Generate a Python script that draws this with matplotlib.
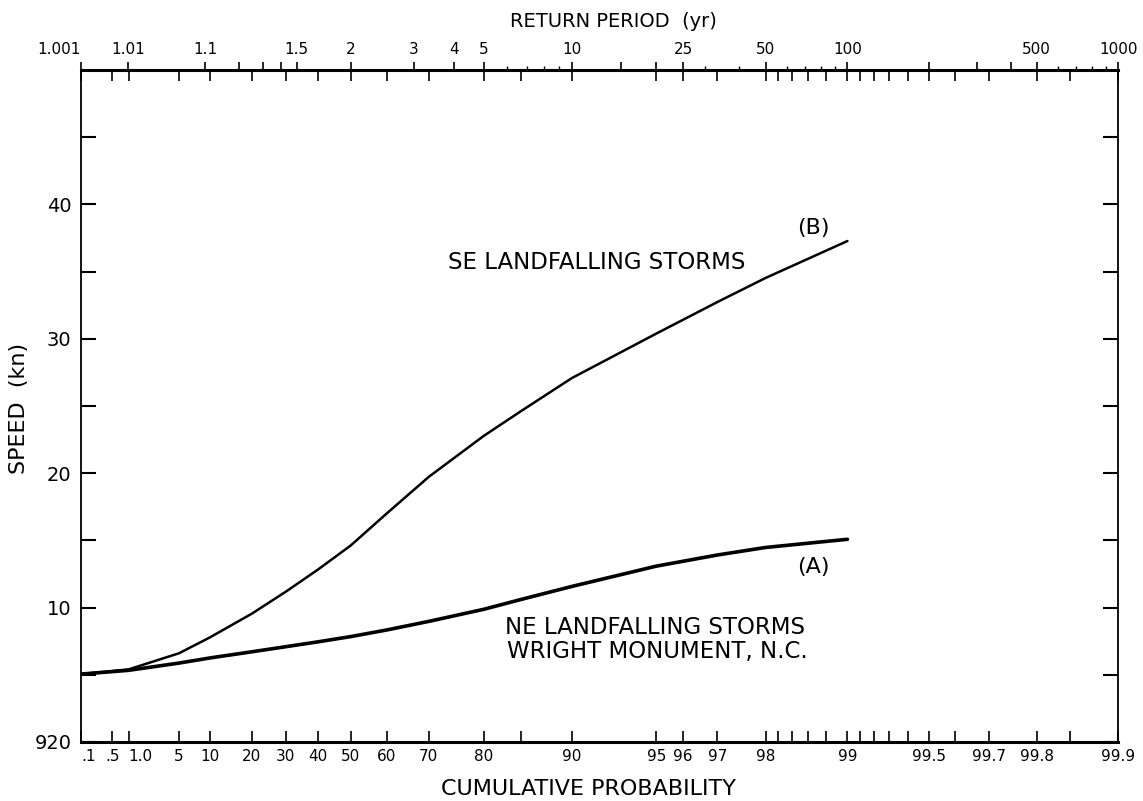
import numpy as np
import matplotlib
matplotlib.use("Agg")
import matplotlib.pyplot as plt

# ---------------- data ----------------
prob = [0.1, 1, 5, 10, 20, 30, 40, 50, 60, 70, 80, 85, 90, 95, 97, 98, 99]
speed_a = [5.05, 5.33, 5.87, 6.25, 6.71, 7.09, 7.45, 7.84, 8.33, 8.97, 9.87,
           10.6, 11.57, 13.08, 13.91, 14.47, 15.08]
speed_b = [5.05, 5.4, 6.6, 7.78, 9.55, 11.19, 12.83, 14.62, 16.99, 19.72, 22.77,
           24.61, 27.07, 30.38, 32.73, 34.52, 37.27]

prob_ticks = [0.1, 0.5, 1, 5, 10, 20, 30, 40, 50, 60, 70, 80, 85, 90, 95, 96, 97,
              98, 98.2, 98.4, 98.6, 98.8, 99, 99.1, 99.2, 99.3, 99.4, 99.5, 99.6,
              99.7, 99.8, 99.85, 99.9]
prob_labels = ['.1', '.5', '1.0', '5', '10', '20', '30', '40', '50', '60', '70',
               '80', '', '90', '95', '96', '97', '98', '', '', '', '', '99', '',
               '', '', '', '99.5', '', '99.7', '99.8', '', '99.9']

rp_ticks = [1.001, 1.01, 1.1, 1.2, 1.3, 1.4, 1.5, 2, 3, 4, 5, 10, 15, 20, 25, 50,
            100, 200, 300, 400, 500, 1000]
rp_labels = ['1.001', '1.01', '1.1', '', '', '', '1.5', '2', '3', '4', '5', '10',
             '', '', '25', '50', '100', '', '', '', '500', '1000']
rp_minor = [6, 7, 8, 9, 30, 40, 60, 70, 80, 90, 600, 700, 800, 900]

speed_ticks = [0, 5, 10, 15, 20, 25, 30, 35, 40, 45]
speed_labels = ['920', '', '10', '', '20', '', '30', '', '40', '']


# ---------------- scales (Gumbel probability paper) ----------------
def fwd_p(p):
    p = np.clip(np.asarray(p, dtype=float) / 100.0, 1e-12, 1 - 1e-12)
    return -np.log(-np.log(p))


def inv_p(u):
    return 100.0 * np.exp(-np.exp(-np.asarray(u, dtype=float)))


def fwd_t(t):
    t = np.clip(np.asarray(t, dtype=float), 1 + 1e-12, 1e12)
    p = 1.0 - 1.0 / t
    return -np.log(-np.log(p))


def inv_t(u):
    p = np.exp(-np.exp(-np.asarray(u, dtype=float)))
    p = np.clip(p, 1e-12, 1 - 1e-12)
    return 1.0 / (1.0 - p)


fig = plt.figure(figsize=(11.43, 8.01), dpi=100)
ax = fig.add_axes([0.0709, 0.0737, 0.9073, 0.839])

ax.set_xscale('function', functions=(fwd_p, inv_p))
ax.set_xlim(0.1, 99.9)
ax.set_ylim(0, 50)

ax.plot(prob, speed_b, color='black', lw=1.8, solid_capstyle='round')
ax.plot(prob, speed_a, color='black', lw=2.6, solid_capstyle='round')

# top axis: return period
ax2 = ax.twiny()
ax2.set_xscale('function', functions=(fwd_t, inv_t))
ax2.set_xlim(1.001, 1000)
ax2.set_xticks(rp_ticks, labels=rp_labels)
ax2.set_xticks(rp_minor, minor=True)
ax2.tick_params(axis='x', which='major', direction='out', length=6, width=1.2,
                labelsize=11, pad=3)
ax2.tick_params(axis='x', which='minor', direction='out', length=3, width=1.0)
for lab in ax2.get_xticklabels():
    if lab.get_text() == '1.001':
        lab.set_ha('right')
for s in ax2.spines.values():
    s.set_visible(False)

# bottom axis ticks (mirrored inward on the top edge too)
ax.set_xticks(prob_ticks, labels=prob_labels)
ax.xaxis.set_minor_locator(matplotlib.ticker.NullLocator())
ax.tick_params(axis='x', which='major', direction='in', length=8, width=1.2,
               top=True, bottom=True, labeltop=False, labelbottom=True,
               labelsize=11, pad=5)
for lab in ax.get_xticklabels():
    if lab.get_text() in ('.1', '1.0'):
        lab.set_ha('left')

# y axis ticks
ax.set_yticks(speed_ticks, labels=speed_labels)
ax.tick_params(axis='y', which='major', direction='in', length=11, width=1.5,
               left=True, right=True, labelsize=14, pad=7)

for side in ('top', 'bottom'):
    ax.spines[side].set_linewidth(2.2)
for side in ('left', 'right'):
    ax.spines[side].set_linewidth(1.3)

# axis titles
ax.set_xlabel('CUMULATIVE PROBABILITY', fontsize=16)
ax.xaxis.set_label_coords((588 - 81) / 1037, -(779 - 742) / 672)
ax2.set_xlabel('RETURN PERIOD  (yr)', fontsize=14)
ax2.xaxis.set_label_coords((613 - 81) / 1037, 1 + (70 - 27) / 672)
ax.set_ylabel('SPEED  (kn)', fontsize=16)
ax.yaxis.set_label_coords((29 - 81) / 1037, (742 - 408) / 672)

# curve annotations
ax.text(0.497, 0.714, 'SE LANDFALLING STORMS', transform=ax.transAxes,
        ha='center', va='center', fontsize=16.5)
ax.text(0.706, 0.765, '(B)', transform=ax.transAxes,
        ha='center', va='center', fontsize=16)
ax.text(0.706, 0.260, '(A)', transform=ax.transAxes,
        ha='center', va='center', fontsize=16)
ax.text(0.5535, 0.1704, 'NE LANDFALLING STORMS', transform=ax.transAxes,
        ha='center', va='center', fontsize=16.5)
ax.text(0.5554, 0.134, 'WRIGHT MONUMENT, N.C.', transform=ax.transAxes,
        ha='center', va='center', fontsize=16.5)

fig.savefig('out.png', dpi=100)
